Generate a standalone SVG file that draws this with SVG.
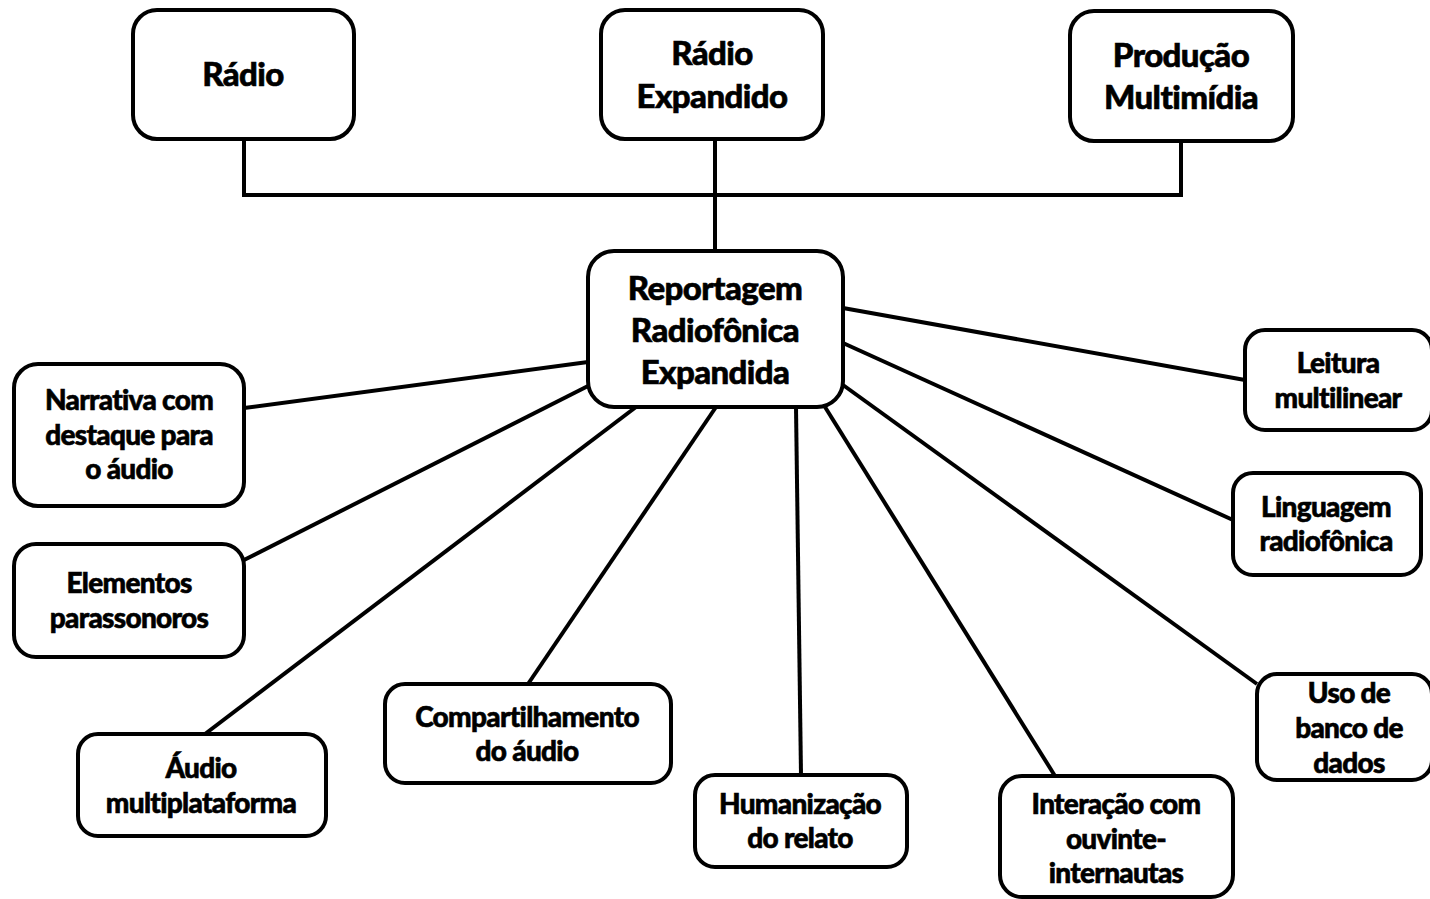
<svg xmlns="http://www.w3.org/2000/svg" width="1430" height="899" viewBox="0 0 1430 899">
<style>
.box{fill:#fff;stroke:#000;stroke-width:4}
.ln{fill:none;stroke:#000;stroke-width:4}
text{font-family:Lato,"Open Sans","Liberation Sans",sans-serif;font-weight:900;fill:#000;stroke:#000;stroke-width:0.6;text-anchor:middle;dominant-baseline:central;letter-spacing:-0.6px}
.big{font-size:33px}
.sm{font-size:28px;letter-spacing:-0.7px}
</style>
<rect width="1430" height="899" fill="#fff"/>
<g id="connectors">
<path class="ln" d="M244,139V195H1181V141M715,139V251"/>
<line class="ln" x1="588" y1="362" x2="244" y2="408"/>
<line class="ln" x1="590" y1="385" x2="244" y2="560"/>
<line class="ln" x1="636" y1="407" x2="205" y2="734"/>
<line class="ln" x1="716" y1="407" x2="528" y2="684"/>
<line class="ln" x1="796" y1="407" x2="801" y2="775"/>
<line class="ln" x1="825" y1="407" x2="1055" y2="776"/>
<line class="ln" x1="843" y1="385" x2="1257" y2="684"/>
<line class="ln" x1="843" y1="343" x2="1233" y2="520"/>
<line class="ln" x1="843" y1="308" x2="1245" y2="380"/>
</g>
<g id="radio"><rect class="box" x="133" y="10" width="221" height="129" rx="24"/><text class="big" x="243" y="73">Rádio</text></g>
<g id="radio-expandido"><rect class="box" x="601" y="10" width="222" height="129" rx="24"/><text class="big" x="712" y="52">Rádio</text><text class="big" x="712" y="95">Expandido</text></g>
<g id="producao"><rect class="box" x="1070" y="11" width="223" height="130" rx="24"/><text class="big" x="1181" y="54">Produção</text><text class="big" x="1181" y="96">Multimídia</text></g>
<g id="center"><rect class="box" x="588" y="251" width="255" height="156" rx="26"/><text class="big" x="715" y="287">Reportagem</text><text class="big" x="715" y="329">Radiofônica</text><text class="big" x="715" y="371">Expandida</text></g>
<g id="narrativa"><rect class="box" x="14" y="364" width="230" height="142" rx="24"/><text class="sm" x="129" y="399">Narrativa com</text><text class="sm" x="129" y="434">destaque para</text><text class="sm" x="129" y="468">o áudio</text></g>
<g id="elementos"><rect class="box" x="14" y="544" width="230" height="113" rx="22"/><text class="sm" x="129" y="582">Elementos</text><text class="sm" x="129" y="617">parassonoros</text></g>
<g id="audio"><rect class="box" x="78" y="734" width="248" height="102" rx="20"/><text class="sm" x="201" y="767">Áudio</text><text class="sm" x="201" y="802">multiplataforma</text></g>
<g id="compartilhamento"><rect class="box" x="385" y="684" width="286" height="99" rx="20"/><text class="sm" x="527" y="716">Compartilhamento</text><text class="sm" x="527" y="750">do áudio</text></g>
<g id="humanizacao"><rect class="box" x="695" y="775" width="212" height="92" rx="20"/><text class="sm" x="800" y="803">Humanização</text><text class="sm" x="800" y="837">do relato</text></g>
<g id="interacao"><rect class="box" x="1000" y="776" width="233" height="121" rx="22"/><text class="sm" x="1116" y="803">Interação com</text><text class="sm" x="1116" y="838">ouvinte-</text><text class="sm" x="1116" y="872">internautas</text></g>
<g id="uso"><rect class="box" x="1257" y="674" width="175" height="106" rx="20"/><text class="sm" x="1349" y="692">Uso de</text><text class="sm" x="1349" y="727">banco de</text><text class="sm" x="1349" y="762">dados</text></g>
<g id="linguagem"><rect class="box" x="1233" y="473" width="188" height="102" rx="20"/><text class="sm" x="1326" y="506">Linguagem</text><text class="sm" x="1326" y="540">radiofônica</text></g>
<g id="leitura"><rect class="box" x="1245" y="330" width="187" height="100" rx="20"/><text class="sm" x="1338" y="362">Leitura</text><text class="sm" x="1338" y="397">multilinear</text></g>
</svg>
